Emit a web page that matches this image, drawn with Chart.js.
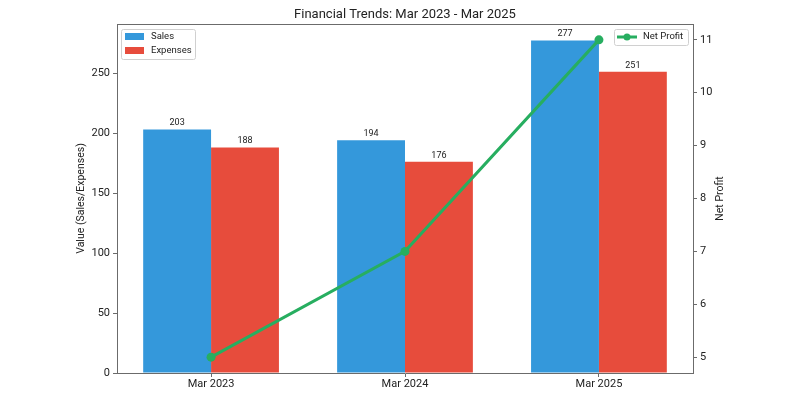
<!DOCTYPE html>
<html>
<head>
<meta charset="utf-8">
<script src="https://cdn.jsdelivr.net/npm/chart.js@4"></script>
<style>
  html, body { margin: 0; padding: 0; background: #ffffff; }
  #wrap { width: 800px; height: 400px; }
</style>
</head>
<body>
<div id="wrap"><canvas id="financeChart" width="800" height="400"></canvas></div>
<script>
// Values
const categories = ["Mar 2023", "Mar 2024", "Mar 2025"];
const sales = [203, 194, 277];
const expenses = [188, 176, 251];
const netProfit = [5, 7, 11];
const leftTicks = [0, 50, 100, 150, 200, 250];
const rightTicks = [5, 6, 7, 8, 9, 10, 11];

const FONT = "Roboto";
const AXIS_GREY = "#6b6b6b";
const TEXT = "#222222";

// Bars and the line share a numeric x axis so the category slots
// can be spaced like the original (0, 1, 2 with some margin).
const toPoints = (arr) => arr.map((v, i) => ({ x: i, y: v }));

// Extra drawing the library has no option for: value labels above
// the bars, the top spine, the two legend boxes and the right
// axis title (which reads bottom-to-top in the original).
const decorPlugin = {
  id: "decor",
  afterDatasetsDraw(chart) {
    const { ctx } = chart;
    ctx.save();
    ctx.font = `9px ${FONT}`;
    ctx.fillStyle = TEXT;
    ctx.textAlign = "center";
    ctx.textBaseline = "bottom";
    chart.data.datasets.forEach((ds, di) => {
      if (ds.type === "line") return;
      chart.getDatasetMeta(di).data.forEach((bar, i) => {
        ctx.fillText(String(ds.data[i].y), bar.x, bar.y - 2);
      });
    });
    ctx.restore();
  },
  afterDraw(chart) {
    const { ctx, chartArea } = chart;
    ctx.save();

    // top spine
    ctx.strokeStyle = AXIS_GREY;
    ctx.lineWidth = 1;
    ctx.beginPath();
    ctx.moveTo(chartArea.left, chartArea.top + 0.5);
    ctx.lineTo(chartArea.right, chartArea.top + 0.5);
    ctx.stroke();

    const ds = chart.data.datasets;
    const legendBox = (x, y, w, h) => {
      ctx.fillStyle = "rgba(255,255,255,0.85)";
      ctx.strokeStyle = "#d0d0d0";
      ctx.lineWidth = 1;
      ctx.beginPath();
      ctx.roundRect(x + 0.5, y + 0.5, w, h, 2);
      ctx.fill();
      ctx.stroke();
    };

    ctx.font = `9.5px ${FONT}`;
    ctx.textAlign = "left";
    ctx.textBaseline = "middle";

    // left legend: bar series
    const l = chartArea.left + 4;
    legendBox(l, chartArea.top + 5, 74, 30);
    [ds[1], ds[2]].forEach((d, k) => {
      const cy = chartArea.top + 12.5 + k * 14;
      ctx.fillStyle = d.backgroundColor;
      ctx.fillRect(l + 4, cy - 3.5, 19, 7);
      ctx.fillStyle = TEXT;
      ctx.fillText(d.label, l + 30, cy);
    });

    // right legend: line series
    const r = chartArea.right - 79;
    legendBox(r, chartArea.top + 5, 74, 16);
    const ly = chartArea.top + 13;
    ctx.strokeStyle = ds[0].borderColor;
    ctx.lineWidth = 3;
    ctx.beginPath();
    ctx.moveTo(r + 3, ly);
    ctx.lineTo(r + 23, ly);
    ctx.stroke();
    ctx.fillStyle = ds[0].borderColor;
    ctx.beginPath();
    ctx.arc(r + 13, ly, 3.5, 0, Math.PI * 2);
    ctx.fill();
    ctx.fillStyle = TEXT;
    ctx.fillText(ds[0].label, r + 29, ly);

    // right axis title, rotated to read upwards
    ctx.translate(chartArea.right + 27, (chartArea.top + chartArea.bottom) / 2);
    ctx.rotate(-Math.PI / 2);
    ctx.textAlign = "center";
    ctx.font = `10.5px ${FONT}`;
    ctx.fillText("Net Profit", 0, 0);
    ctx.restore();
  },
};

const tickGrid = {
  drawOnChartArea: false,
  drawTicks: true,
  tickLength: 4,
  tickColor: AXIS_GREY,
  offset: false,
};

new Chart(document.getElementById("financeChart"), {
  type: "bar",
  data: {
    datasets: [
      {
        type: "line",
        label: "Net Profit",
        data: toPoints(netProfit),
        yAxisID: "y1",
        borderColor: "#27ae60",
        backgroundColor: "#27ae60",
        borderWidth: 3,
        pointRadius: 4.5,
        pointBorderWidth: 0,
        pointBackgroundColor: "#27ae60",
        order: 0,
      },
      {
        label: "Sales",
        data: toPoints(sales),
        backgroundColor: "#3498db",
        yAxisID: "y",
        order: 1,
      },
      {
        label: "Expenses",
        data: toPoints(expenses),
        backgroundColor: "#e74c3c",
        yAxisID: "y",
        order: 1,
      },
    ],
  },
  options: {
    responsive: false,
    animation: false,
    layout: { padding: { left: 10, right: 0, top: 0, bottom: 0 } },
    datasets: {
      bar: { categoryPercentage: 0.7, barPercentage: 1.0, grouped: true },
    },
    plugins: {
      legend: { display: false },
      tooltip: { enabled: false },
      title: {
        display: true,
        text: "Financial Trends: Mar 2023 - Mar 2025",
        color: TEXT,
        font: { family: FONT, size: 13, weight: "normal" },
        padding: { top: 7, bottom: 1.4 },
      },
    },
    scales: {
      x: {
        type: "linear",
        min: -0.485,
        max: 2.485,
        offset: false,
        grid: tickGrid,
        border: { color: AXIS_GREY, width: 1 },
        ticks: {
          color: TEXT,
          font: { family: FONT, size: 11 },
          padding: 1,
          maxRotation: 0,
          callback: (v) => categories[v],
        },
        afterBuildTicks: (s) => { s.ticks = categories.map((c, i) => ({ value: i })); },
        afterFit: (s) => { s.height = 27; },
      },
      y: {
        position: "left",
        min: 0,
        max: 290.85,
        grid: tickGrid,
        border: { color: AXIS_GREY, width: 1 },
        ticks: { color: TEXT, font: { family: FONT, size: 11 }, padding: 3 },
        title: {
          display: true,
          text: "Value (Sales/Expenses)",
          color: TEXT,
          font: { family: FONT, size: 10.5 },
          padding: { top: 65, bottom: 0 },
        },
        afterBuildTicks: (s) => { s.ticks = leftTicks.map((v) => ({ value: v })); },
        afterFit: (s) => { s.width = 107; },
      },
      y1: {
        position: "right",
        min: 4.7,
        max: 11.3,
        grid: tickGrid,
        border: { color: AXIS_GREY, width: 1 },
        ticks: { color: TEXT, font: { family: FONT, size: 11 }, padding: 3 },
        afterBuildTicks: (s) => { s.ticks = rightTicks.map((v) => ({ value: v })); },
        afterFit: (s) => { s.width = 107; },
      },
    },
  },
  plugins: [decorPlugin],
});
</script>
</body>
</html>
